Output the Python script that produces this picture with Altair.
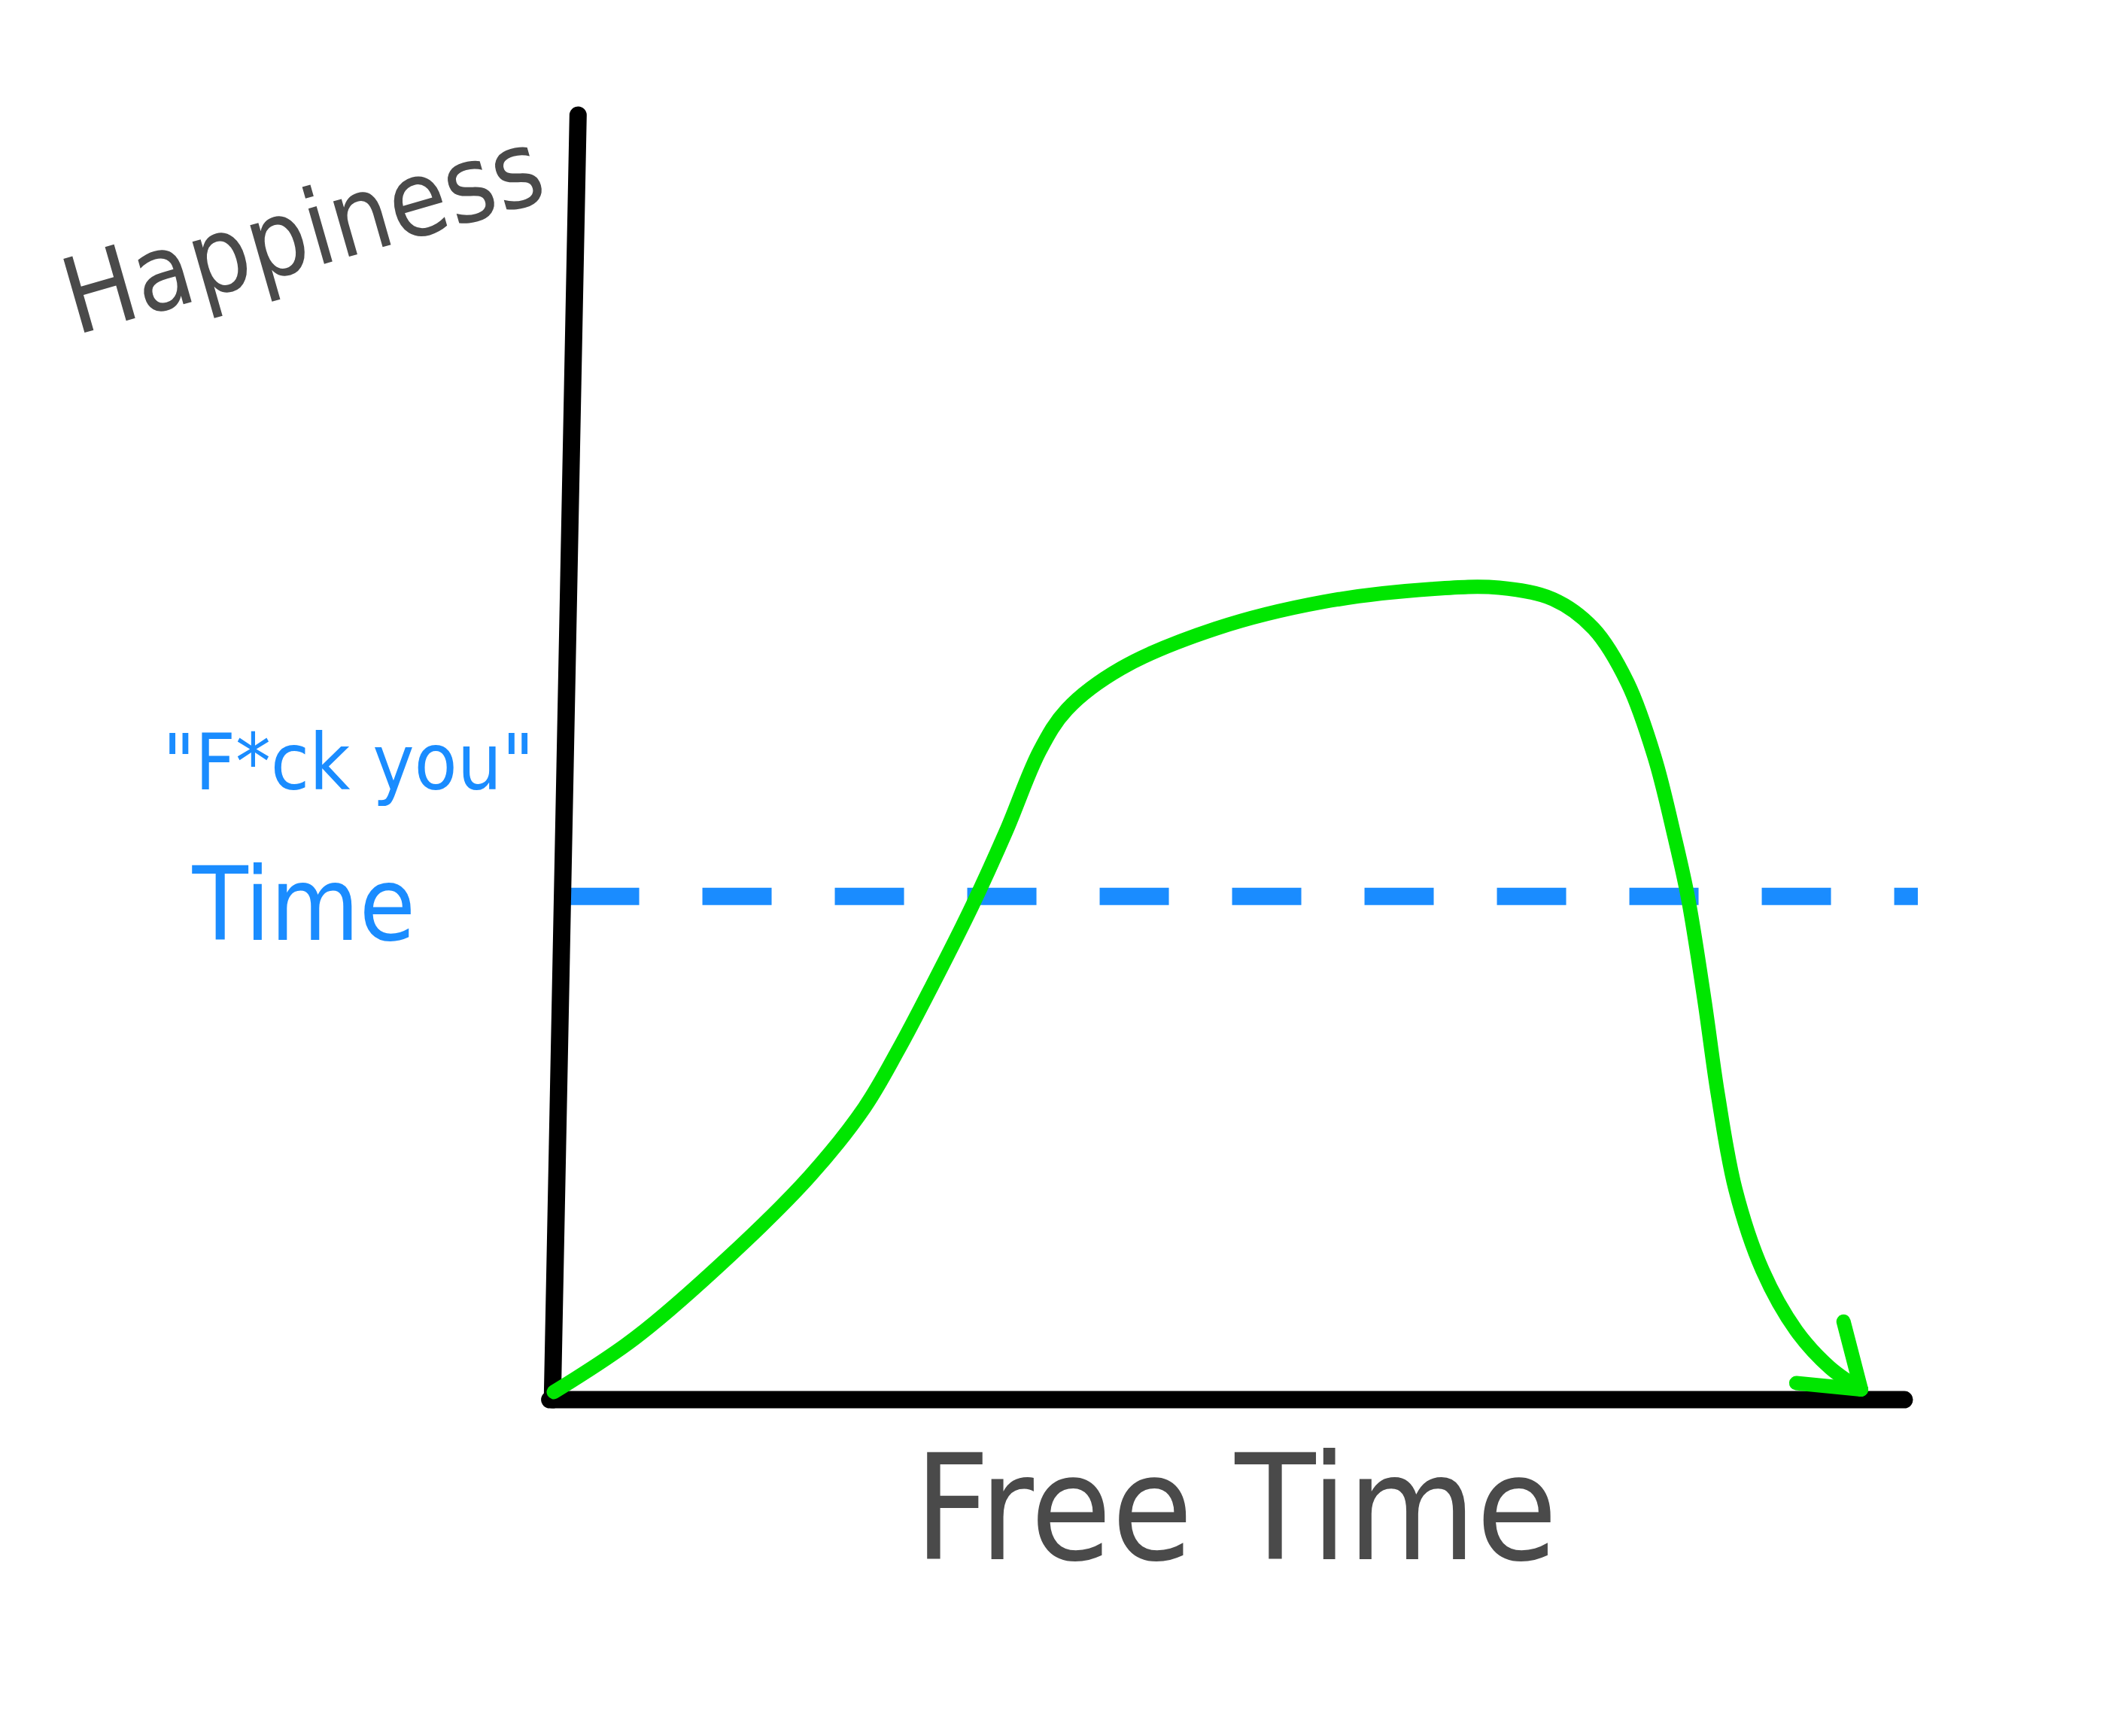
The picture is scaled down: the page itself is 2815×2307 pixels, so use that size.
import altair as alt
import pandas as pd

# Green curve: happiness vs free time (data units 0-100)
free_time = [0, 6, 13, 19, 23, 25.5, 28, 31, 33.5, 36, 38, 42, 49, 57, 65, 70, 74, 77,
             79.5, 81.5, 83, 84, 85.2, 86.2, 87.5, 89.5, 92, 94.5, 96.8]
happiness = [0.3, 4.5, 10.9, 17.2, 22.5, 27.0, 32.0, 38.3, 44.1, 50.4, 53.6, 56.8, 59.9,
             62.0, 63.0, 63.1, 62.2, 59.9, 55.7, 49.9, 43.6, 38.8, 30.9, 23.5, 16.1, 9.8,
             5.1, 2.2, 0.5]

# Arrow head barbs (from the tip)
arrow_x = [96.8, 96.8]
arrow_y = [0.5, 0.5]
arrow_x2 = [95.5, 92.0]
arrow_y2 = [5.8, 1.0]

# Hand drawn axes
y_axis_x = [-0.1, 1.8]
y_axis_y = [-0.3, 100]
x_axis_x = [-0.3, 100]
x_axis_y = [-0.3, -0.3]

# "F*ck you" threshold line
threshold_level = 39.0
threshold_start = 1.2
threshold_end = 101.0

# Labels
label_text = ["Happiness", '"F*ck you"', "Time", "Free Time"]
label_x = [-18.5, -15.2, -18.5, 50.5]
label_y = [90.5, 49.2, 38.0, -9.3]

xs = alt.Scale(domain=[0, 100], nice=False, zero=False)
ys = alt.Scale(domain=[0, 100], nice=False, zero=False)

def X(field="x"):
    return alt.X(f"{field}:Q", scale=xs, axis=None)

def Y(field="y"):
    return alt.Y(f"{field}:Q", scale=ys, axis=None)

curve_df = pd.DataFrame({"x": free_time, "y": happiness})
arrow_df = pd.DataFrame({"x": arrow_x, "y": arrow_y, "x2": arrow_x2, "y2": arrow_y2})
yaxis_df = pd.DataFrame({"x": y_axis_x, "y": y_axis_y})
xaxis_df = pd.DataFrame({"x": x_axis_x, "y": x_axis_y})
thr_df = pd.DataFrame({"x": [threshold_start], "x2": [threshold_end], "y": [threshold_level]})
lab_df = pd.DataFrame({"x": label_x, "y": label_y, "t": label_text})

black = "#000000"
green = "#00e600"
blue = "#1a8cff"
gray = "#4a4a4a"

y_axis_line = alt.Chart(yaxis_df).mark_line(color=black, strokeWidth=23, strokeCap="round").encode(
    x=X(), y=Y(), order="y:Q")
x_axis_line = alt.Chart(xaxis_df).mark_line(color=black, strokeWidth=23, strokeCap="round").encode(
    x=X(), y=Y())

threshold = alt.Chart(thr_df).mark_rule(color=blue, strokeWidth=23, strokeDash=[92, 84]).encode(
    x=X(), x2="x2:Q", y=Y())

curve = alt.Chart(curve_df).mark_line(color=green, strokeWidth=19, strokeCap="round",
                                      strokeJoin="round", interpolate="catmull-rom").encode(
    x=X(), y=Y())

arrow = alt.Chart(arrow_df).mark_rule(color=green, strokeWidth=19, strokeCap="round").encode(
    x=X(), y=Y(), x2="x2:Q", y2="y2:Q")

font = "DejaVu Sans Condensed, DejaVu Sans, sans-serif"

happy = alt.Chart(lab_df[lab_df.t == "Happiness"]).mark_text(
    font=font, fontSize=140, color=gray, angle=344, align="center", baseline="middle").encode(
    x=X(), y=Y(), text="t:N")
fck = alt.Chart(lab_df[lab_df.t == '"F*ck you"']).mark_text(
    font=font, fontSize=104, color=blue, align="center", baseline="middle").encode(
    x=X(), y=Y(), text="t:N")
time_lab = alt.Chart(lab_df[lab_df.t == "Time"]).mark_text(
    font=font, fontSize=135, color=blue, align="center", baseline="middle").encode(
    x=X(), y=Y(), text="t:N")
free = alt.Chart(lab_df[lab_df.t == "Free Time"]).mark_text(
    font=font, fontSize=195, color=gray, align="center", baseline="middle").encode(
    x=X(), y=Y(), text="t:N")

chart = alt.layer(
    threshold, y_axis_line, x_axis_line, curve, arrow, happy, fck, time_lab, free
).properties(
    width=1795, height=1702,
    padding={"left": 728, "top": 145, "right": 250, "bottom": 400},
    autosize=alt.AutoSizeParams(type="none"),
    background="white",
).configure_view(stroke=None)

chart.save("out.html", embed_options={"renderer": "svg", "actions": False})
